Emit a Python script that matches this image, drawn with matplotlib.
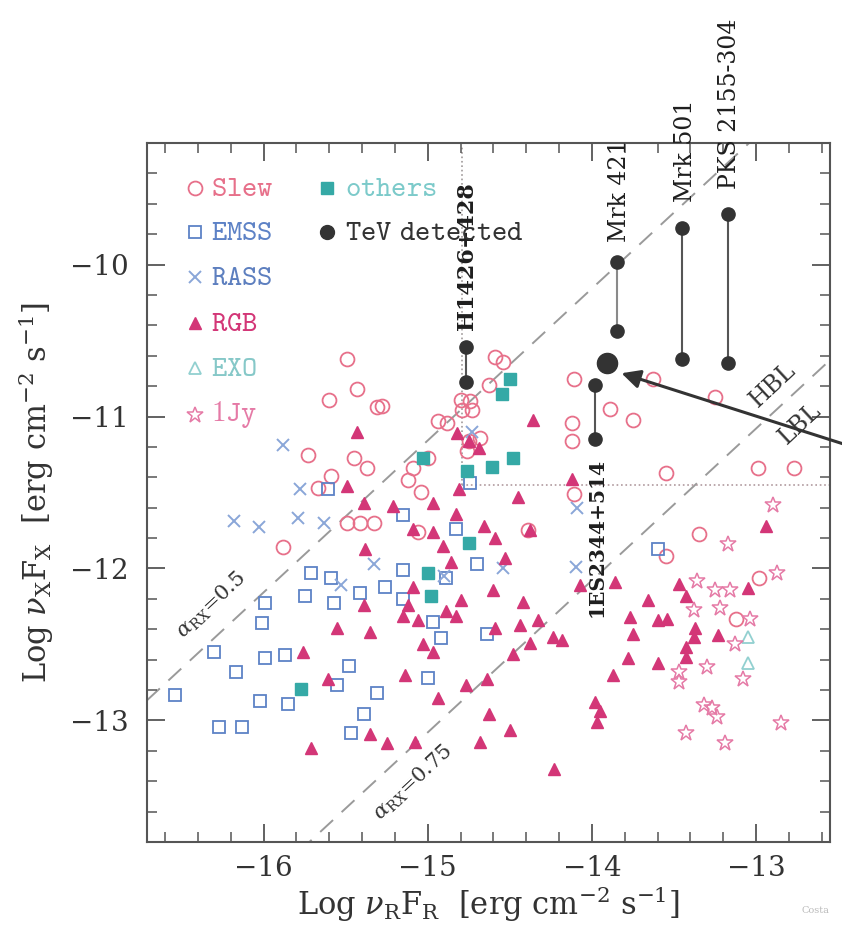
import numpy as np
import matplotlib
matplotlib.use("Agg")
import matplotlib.pyplot as plt

plt.rcParams['font.family'] = ['DejaVu Serif']
plt.rcParams['mathtext.fontset'] = 'dejavuserif'

# ---------------- data (log nuR FR, log nuX FX) ----------------
slew_x = [-15.49, -15.43, -15.60, -15.31, -15.73, -15.45, -15.37, -15.59, -15.67, -15.88,
          -15.49, -15.41, -15.33, -15.06, -15.12, -15.04, -15.09, -15.00, -14.94, -14.88,
          -14.80, -14.74, -14.79, -14.73, -14.68, -14.75, -14.76, -14.63, -14.59, -14.54,
          -15.28, -14.11, -13.89, -14.12, -14.12, -14.11, -14.39, -13.63, -13.25, -13.75,
          -13.55, -12.99, -12.77, -13.35, -13.55, -12.98, -13.12]
slew_y = [-10.62, -10.82, -10.89, -10.94, -11.25, -11.27, -11.34, -11.39, -11.47, -11.86,
          -11.70, -11.70, -11.70, -11.76, -11.42, -11.50, -11.34, -11.27, -11.03, -11.04,
          -10.89, -10.90, -10.96, -10.96, -11.14, -11.16, -11.23, -10.79, -10.61, -10.64,
          -10.93, -10.75, -10.95, -11.04, -11.16, -11.51, -11.75, -10.75, -10.87, -11.02,
          -11.37, -11.34, -11.34, -11.77, -11.92, -12.06, -12.33]

emss_x = [-15.99, -15.57, -16.01, -16.30, -15.99, -15.87, -16.17, -16.54, -16.02, -15.85,
          -16.27, -16.13, -15.48, -15.55, -15.31, -15.39, -15.47, -15.71, -15.59, -15.75,
          -15.41, -15.26, -15.15, -14.70, -14.89, -15.15, -14.97, -14.92, -14.64, -15.00,
          -15.15, -14.83, -13.60, -15.61, -14.74]
emss_y = [-12.23, -12.23, -12.36, -12.55, -12.59, -12.57, -12.68, -12.83, -12.87, -12.89,
          -13.04, -13.04, -12.64, -12.77, -12.82, -12.96, -13.08, -12.03, -12.06, -12.18,
          -12.16, -12.12, -12.01, -11.97, -12.06, -12.20, -12.35, -12.46, -12.43, -12.72,
          -11.65, -11.74, -11.87, -11.48, -11.44]

rass_x = [-15.88, -15.78, -16.18, -16.03, -15.79, -15.63, -15.33, -15.53, -14.73, -14.09,
          -14.10, -14.54, -14.90]
rass_y = [-11.19, -11.48, -11.69, -11.73, -11.67, -11.70, -11.97, -12.11, -11.10, -11.60,
          -11.99, -12.00, -12.05]

rgb_x = [-15.43, -15.49, -15.39, -15.21, -15.38, -15.39, -14.82, -14.69, -14.81, -14.36,
         -14.75, -14.45, -14.97, -14.83, -15.09, -14.97, -14.91, -14.86, -14.66, -14.59,
         -14.53, -14.12, -14.38, -15.09, -15.12, -15.15, -15.06, -14.89, -14.80, -15.55,
         -15.35, -15.03, -14.97, -15.76, -15.61, -15.14, -14.94, -14.77, -14.64, -14.63,
         -15.71, -15.35, -15.25, -15.08, -14.68, -14.60, -14.42, -14.83, -14.59, -14.44,
         -14.33, -14.24, -14.18, -14.38, -14.48, -14.50, -14.23, -13.98, -13.95, -13.97,
         -13.87, -13.86, -14.07, -13.78, -13.77, -13.75, -13.66, -13.60, -13.54, -13.47,
         -13.43, -13.37, -13.38, -13.23, -13.43, -13.43, -13.60, -13.05, -12.94]
rgb_y = [-11.10, -11.46, -11.57, -11.59, -11.87, -12.24, -11.11, -11.21, -11.48, -11.02,
         -11.16, -11.53, -11.57, -11.64, -11.74, -11.76, -11.85, -11.96, -11.72, -11.80,
         -11.93, -11.41, -11.75, -12.12, -12.24, -12.31, -12.34, -12.28, -12.21, -12.39,
         -12.42, -12.50, -12.55, -12.55, -12.73, -12.70, -12.85, -12.77, -12.73, -12.96,
         -13.18, -13.09, -13.15, -13.14, -13.14, -12.14, -12.22, -12.31, -12.39, -12.37,
         -12.34, -12.45, -12.47, -12.49, -12.56, -13.06, -13.32, -12.88, -12.94, -13.01,
         -12.70, -12.09, -12.11, -12.59, -12.32, -12.43, -12.21, -12.34, -12.33, -12.10,
         -12.18, -12.39, -12.45, -12.44, -12.52, -12.58, -12.62, -12.13, -11.72]

exo_x = [-13.05, -13.05]
exo_y = [-12.45, -12.62]

jy1_x = [-12.90, -13.17, -12.87, -13.36, -13.25, -13.16, -13.22, -13.38, -13.04, -13.13,
         -13.30, -13.47, -13.47, -13.08, -13.32, -13.27, -13.24, -13.43, -13.19, -12.85]
jy1_y = [-11.58, -11.84, -12.03, -12.08, -12.14, -12.14, -12.26, -12.27, -12.33, -12.50,
         -12.65, -12.68, -12.75, -12.73, -12.90, -12.92, -12.98, -13.08, -13.15, -13.02]

others_x = [-14.50, -14.55, -15.03, -14.76, -14.61, -14.48, -14.75, -15.00, -14.98, -15.77]
others_y = [-10.75, -10.85, -11.27, -11.36, -11.33, -11.27, -11.83, -12.03, -12.18, -12.79]

# TeV detected sources: name, log nuR FR, low state, high state
tev_names = ['H1426+428', 'Mrk 421', '1ES2344+514', 'Mrk 501', 'PKS 2155-304']
tev_x = [-14.77, -13.85, -13.98, -13.45, -13.17]
tev_lo = [-10.77, -10.44, -11.15, -10.62, -10.65]
tev_hi = [-10.54, -9.98, -10.79, -9.76, -9.67]
big_x, big_y = -13.91, -10.65          # highlighted (large) point
arrow_from = (-12.47, -11.18)

alpha_rx = [0.5, 0.75]
log_nu_ratio = 7.685                   # log(nu_1keV / nu_5GHz)
box_x, box_y = -14.79, -11.45          # dotted selection lines

# ---------------- figure ----------------
fig = plt.figure(figsize=(8.42, 9.30), dpi=100)
ax = fig.add_axes([147/842, 1-842/930, (830-147)/842, (842-143)/930])
xlim = (-16.71, -12.55)
ylim = (-13.80, -9.21)
ax.set_xlim(*xlim)
ax.set_ylim(*ylim)

# alpha_rx dashed lines
xx = np.array(xlim)
for a in alpha_rx:
    ax.plot(xx, xx + (1 - a) * log_nu_ratio, color='#9a9a9a', lw=1.4,
            dashes=(9, 6), zorder=1)

# dotted selection lines
ax.plot([box_x, box_x], [box_y, ylim[1]], color='#a09a9a', lw=1.2, ls=':', zorder=1)
ax.plot([box_x, xlim[1]], [box_y, box_y], color='#b09a9e', lw=1.2, ls=':', zorder=1)

c_slew = '#e7708a'
c_emss = '#5d82c6'
c_rass = '#8aa6d8'
c_rgb = '#d33677'
c_exo = '#92d0d0'
c_1jy = '#e57aa6'
c_oth = '#35a9a6'
c_tev = '#333333'

ax.plot(slew_x, slew_y, 'o', ms=10, mfc='none', mec=c_slew, mew=1.3, zorder=3)
ax.plot(emss_x, emss_y, 's', ms=8, mfc='none', mec=c_emss, mew=1.3, zorder=3)
ax.plot(rass_x, rass_y, 'x', ms=8, color=c_rass, mew=1.4, zorder=3)
ax.plot(rgb_x, rgb_y, '^', ms=9, color=c_rgb, mec=c_rgb, zorder=4)
ax.plot(exo_x, exo_y, '^', ms=9, mfc='none', mec=c_exo, mew=1.3, zorder=3)
ax.plot(jy1_x, jy1_y, '*', ms=12, mfc='none', mec=c_1jy, mew=1.1, zorder=3)
ax.plot(others_x, others_y, 's', ms=8, color=c_oth, mec=c_oth, zorder=4)

# TeV sources
for i, (x, lo, hi) in enumerate(zip(tev_x, tev_lo, tev_hi)):
    lc = '#8a8a8a' if tev_names[i] == 'Mrk 421' else '#555555'
    ax.plot([x, x], [lo, hi], color=lc, lw=1.5, zorder=5)
    ax.plot([x, x], [lo, hi], 'o', ms=9.5, color=c_tev, zorder=6)
ax.plot([big_x], [big_y], 'o', ms=14.5, color=c_tev, zorder=6)

# TeV labels
lab_kw = dict(rotation=90, color='#1e1e1e', ha='center')
ax.text(tev_x[0] + 0.01, -10.43, tev_names[0], va='bottom', fontsize=16,
        fontweight='bold', **lab_kw)
ax.text(tev_x[1] + 0.02, -9.85, tev_names[1], va='bottom', fontsize=17,
        clip_on=False, **lab_kw)
ax.text(tev_x[2] + 0.01, -11.27, tev_names[2], va='top', fontsize=14.5,
        fontweight='bold', **lab_kw)
ax.text(tev_x[3] + 0.02, -9.59, tev_names[3], va='bottom', fontsize=17,
        clip_on=False, **lab_kw)
ax.text(tev_x[4] + 0.01, -9.50, tev_names[4], va='bottom', fontsize=17,
        clip_on=False, **lab_kw)

# arrow toward highlighted point
ax.annotate('', xy=(big_x + 0.09, big_y - 0.065), xytext=arrow_from,
            arrowprops=dict(arrowstyle='-|>', color='#333333', lw=2.2,
                            mutation_scale=28, shrinkA=0, shrinkB=0),
            annotation_clip=False, zorder=7)

# line labels
ax.text(-16.32, -12.24, r'$\alpha_{\rm RX}$=0.5', rotation=43, fontsize=15,
        color='#333333', ha='center', va='center')
ax.text(-15.09, -13.41, r'$\alpha_{\rm RX}$=0.75', rotation=43, fontsize=15,
        color='#333333', ha='center', va='center')
ax.text(-12.90, -10.79, 'HBL', rotation=43, fontsize=17, color='#333333',
        ha='center', va='center')
ax.text(-12.73, -11.05, 'LBL', rotation=43, fontsize=17, color='#333333',
        ha='center', va='center')

# custom legend (typewriter style text)
def tt(s):
    return r'$\mathtt{' + s.replace(' ', r'\ ') + '}$'

leg_rows = [0.9356, 0.8727, 0.8083, 0.7425, 0.678, 0.611]
col1 = [('Slew', dict(marker='o', ms=10, mfc='none', mec=c_slew, mew=1.3), c_slew),
        ('EMSS', dict(marker='s', ms=8, mfc='none', mec=c_emss, mew=1.3), c_emss),
        ('RASS', dict(marker='x', ms=8, color=c_rass, mew=1.4), '#5d7fbf'),
        ('RGB', dict(marker='^', ms=9, color=c_rgb), c_rgb),
        ('EXO', dict(marker='^', ms=9, mfc='none', mec=c_exo, mew=1.3), '#86c8c8'),
        ('1Jy', dict(marker='*', ms=12, mfc='none', mec=c_1jy, mew=1.1), c_1jy)]
for (lab, mk, tc), yy in zip(col1, leg_rows):
    ax.plot([0.070], [yy], transform=ax.transAxes, ls='none', **mk)
    ax.text(0.093, yy, tt(lab), transform=ax.transAxes, fontsize=21, color=tc,
            va='center', ha='left', math_fontfamily='cm')
col2 = [('others', dict(marker='s', ms=8, color=c_oth), '#7ccaca'),
        ('TeV detected', dict(marker='o', ms=10, color=c_tev), '#333333')]
for (lab, mk, tc), yy in zip(col2, leg_rows[:2]):
    ax.plot([0.2635], [yy], transform=ax.transAxes, ls='none', **mk)
    ax.text(0.290, yy, tt(lab), transform=ax.transAxes, fontsize=21, color=tc,
            va='center', ha='left', math_fontfamily='cm')

# axes styling
ax.set_xticks([-16, -15, -14, -13])
ax.set_yticks([-13, -12, -11, -10])
ax.set_xticks(np.arange(-16.6, -12.5, 0.2), minor=True)
ax.set_yticks(np.arange(-13.8, -9.2, 0.2), minor=True)
ax.set_xticklabels(['\u221216', '\u221215', '\u221214', '\u221213'])
ax.set_yticklabels(['\u221213', '\u221212', '\u221211', '\u221210'])
ax.tick_params(which='both', direction='in', top=True, right=True, colors='#555555',
               labelcolor='#333333', labelsize=20)
ax.tick_params(which='major', length=13, width=1.3)
ax.tick_params(axis='x', which='major', pad=9)
ax.tick_params(axis='y', which='major', pad=13)
ax.tick_params(which='minor', length=7, width=1.1)
for s in ax.spines.values():
    s.set_color('#555555')
    s.set_linewidth(1.5)

ax.set_xlabel(r'Log $\nu_{\rm R}$F$_{\rm R}$  [erg cm$^{-2}$ s$^{-1}$]', fontsize=22,
              color='#333333', labelpad=2)
ax.set_ylabel(r'Log $\nu_{\rm X}$F$_{\rm X}$  [erg cm$^{-2}$ s$^{-1}$]', fontsize=22,
              color='#333333', labelpad=10)

fig.text(0.952, 0.021, 'Costa', fontsize=7, color='#bbbbbb', ha='left', va='center')

fig.savefig('out.png', dpi=100, facecolor='white')
